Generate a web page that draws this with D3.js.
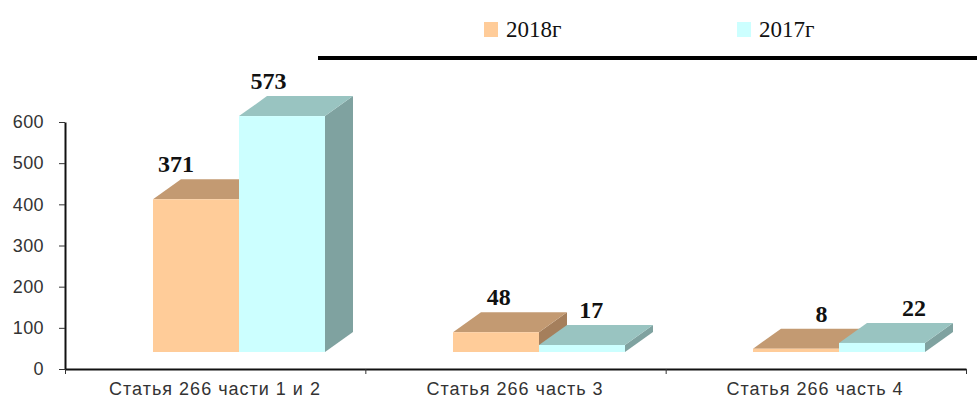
<html>
<head>
<meta charset="utf-8">
<title>Статья 266</title>
<script src="https://d3js.org/d3.v7.min.js"></script>
<style>
  body { margin: 0; background: #fff; }
  .axis text { font-family: "Liberation Sans", Arial, sans-serif; font-size: 18px; fill: #333; letter-spacing: 0.4px; }
  .cat { font-family: "Liberation Sans", Arial, sans-serif; font-size: 18px; fill: #333; letter-spacing: 1px; }
  .val { font-family: "Liberation Serif", "Times New Roman", serif; font-size: 24px; font-weight: bold; fill: #111; }
  .leg { font-family: "Liberation Serif", "Times New Roman", serif; font-size: 23px; fill: #111; }
</style>
</head>
<body>
<svg width="977" height="406"></svg>
<script>
var categories = ["Статья 266 части 1 и 2", "Статья 266 часть 3", "Статья 266 часть 4"];
var series = ["2018г", "2017г"];
var values2018 = [371, 48, 8];
var values2017 = [573, 17, 22];
var yTicks = [0, 100, 200, 300, 400, 500, 600];

var front = {"2018г": "#ffcc99", "2017г": "#ccffff"};
var top_ = {"2018г": "#c39a72", "2017г": "#99c4c1"};
var side = {"2018г": "#a57f5c", "2017г": "#7fa2a0"};

var svg = d3.select("svg");
var dx = 28, dy = -20, lift = 17;

var x = d3.scaleBand().domain(categories).range([65, 965]);
var xs = d3.scaleBand().domain(series).range([0, 172]);
var y = d3.scaleLinear().domain([0, 600]).range([369, 122]);

// y axis
svg.append("g").attr("class", "axis")
  .attr("transform", "translate(65,0)")
  .call(d3.axisLeft(y).tickValues(yTicks).tickSize(6).tickSizeOuter(0).tickPadding(15))
  .call(function(g) {
    g.select(".domain").attr("stroke", "#111").attr("stroke-width", 2);
    g.selectAll(".tick line").attr("stroke", "#333");
  });

// x axis, ticks on the band edges
var xe = d3.scaleLinear().domain([0, 3]).range([65, 966]);
svg.append("g").attr("class", "axis")
  .attr("transform", "translate(0,369)")
  .call(d3.axisBottom(xe).tickValues([0, 1, 2, 3]).tickSize(5).tickSizeOuter(0).tickFormat(""))
  .call(function(g) {
    g.select(".domain").attr("stroke", "#111").attr("stroke-width", 2);
    g.selectAll(".tick line").attr("stroke", "#333");
  });

svg.selectAll(".cat").data(categories).enter().append("text")
  .attr("class", "cat")
  .attr("x", function(d) { return x(d) + x.bandwidth() / 2; })
  .attr("y", 395)
  .attr("text-anchor", "middle")
  .text(function(d) { return d; });

// bars
var rows = [];
categories.forEach(function(c, i) {
  rows.push({cat: c, s: "2018г", v: values2018[i]});
  rows.push({cat: c, s: "2017г", v: values2017[i]});
});

var labelShift = d3.scaleLinear().domain([195, 882]).range([-20, 32]);

rows.forEach(function(d) {
  var x0 = x(d.cat) + x.bandwidth() / 2 - 62 + xs(d.s);
  var x1 = x0 + xs.bandwidth();
  var yb = y(0) - lift;
  var yt = y(d.v) - lift;
  var g = svg.append("g");
  g.append("polygon")
    .attr("points", [[x1, yt], [x1 + dx, yt + dy], [x1 + dx, yb + dy], [x1, yb]].join(" "))
    .attr("fill", side[d.s]);
  g.append("polygon")
    .attr("points", [[x0, yt], [x0 + dx, yt + dy], [x1 + dx, yt + dy], [x1, yt]].join(" "))
    .attr("fill", top_[d.s]);
  g.append("rect")
    .attr("x", x0).attr("y", yt)
    .attr("width", x1 - x0).attr("height", yb - yt)
    .attr("fill", front[d.s]);
  d.cx = (x0 + x1) / 2;
  d.yt = yt;
});

svg.selectAll(".val").data(rows).enter().append("text")
  .attr("class", "val")
  .attr("x", function(d) { return d.cx + labelShift(d.cx); })
  .attr("y", function(d) { return d.yt - 27; })
  .attr("text-anchor", "middle")
  .text(function(d) { return d.v; });

// legend
svg.append("line")
  .attr("x1", 318).attr("x2", 977).attr("y1", 58).attr("y2", 58)
  .attr("stroke", "#000").attr("stroke-width", 4);

var legX = [484, 737];
series.forEach(function(s, i) {
  svg.append("rect").attr("x", legX[i]).attr("y", 22).attr("width", 14).attr("height", 15)
    .attr("fill", front[s]);
  svg.append("text").attr("class", "leg")
    .attr("x", legX[i] + 22).attr("y", 37)
    .text(s);
});
</script>
</body>
</html>
